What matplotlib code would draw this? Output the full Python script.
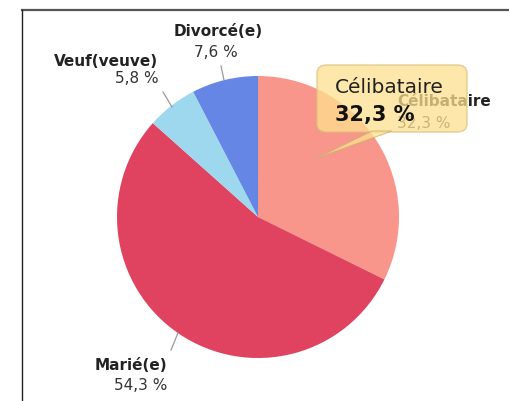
import matplotlib
matplotlib.use("Agg")
import matplotlib.pyplot as plt
from matplotlib.patches import FancyBboxPatch, Polygon
from matplotlib.lines import Line2D

categories = ["Célibataire", "Marié(e)", "Veuf(veuve)", "Divorcé(e)"]
values = [32.3, 54.3, 5.8, 7.6]
colors = ["#F9968B", "#E0435F", "#9ED8EE", "#6686E5"]
value_labels = ["32,3 %", "54,3 %", "5,8 %", "7,6 %"]

W, H = 509, 401
fig = plt.figure(figsize=(W / 100, H / 100), dpi=100)
fig.patch.set_facecolor("white")

cx, cy, R = 258, 217, 141
ax = fig.add_axes([(cx - R) / W, (H - cy - R) / H, 2 * R / W, 2 * R / H])
ax.pie(values, colors=colors, startangle=90, counterclock=False,
       wedgeprops=dict(linewidth=0))
ax.set_xlim(-1, 1)
ax.set_ylim(-1, 1)
ax.axis("off")
ax.set_zorder(0)

def fx(x):
    return x / W

def fy(y):
    return 1 - y / H

# frame
fig.add_artist(Line2D([fx(22), fx(509)], [fy(9.5), fy(9.5)], color="#555555", lw=1.6))
fig.add_artist(Line2D([fx(22), fx(22)], [fy(9.5), fy(401)], color="#222222", lw=1.0))

# leader lines
leaders = [
    ((224, 80), (221, 66)),
    ((172, 107), (163, 92)),
    ((178, 333), (171, 350)),
]
for (x0, y0), (x1, y1) in leaders:
    fig.add_artist(Line2D([fx(x0), fx(x1)], [fy(y0), fy(y1)], color="#999999", lw=0.9))

fs = 11.0
# Divorcé(e)
fig.text(fx(218), fy(36), categories[3], ha="center", va="baseline", fontsize=fs,
         fontweight="bold", color="#222222", zorder=3)
fig.text(fx(216), fy(57), value_labels[3], ha="center", va="baseline", fontsize=fs,
         color="#333333", zorder=3)
# Veuf(veuve)
fig.text(fx(158), fy(66), categories[2], ha="right", va="baseline", fontsize=fs,
         fontweight="bold", color="#222222", zorder=3)
fig.text(fx(159), fy(83), value_labels[2], ha="right", va="baseline", fontsize=fs,
         color="#333333", zorder=3)
# Marié(e)
fig.text(fx(167), fy(370), categories[1], ha="right", va="baseline", fontsize=fs,
         fontweight="bold", color="#222222", zorder=3)
fig.text(fx(167), fy(390), value_labels[1], ha="right", va="baseline", fontsize=fs,
         color="#333333", zorder=3)
# Célibataire (partly under tooltip)
fig.text(fx(397), fy(106), categories[0], ha="left", va="baseline", fontsize=fs,
         fontweight="bold", color="#222222", zorder=3)
fig.text(fx(397), fy(128), value_labels[0], ha="left", va="baseline", fontsize=fs,
         color="#333333", zorder=3)

# tooltip
box = FancyBboxPatch((fx(317), fy(132)), fx(467) - fx(317), fy(65) - fy(132),
                     boxstyle="round,pad=0,rounding_size=0.02",
                     transform=fig.transFigure, facecolor="#FEE08E", alpha=0.75,
                     edgecolor="#D9C27A", lw=1.0, zorder=4)
fig.add_artist(box)
ptr = Polygon([[fx(372), fy(131)], [fx(317), fy(158)], [fx(392), fy(131)]],
              closed=True, transform=fig.transFigure, facecolor="#FEE08E",
              alpha=0.75, edgecolor="#C9B070", lw=0.8, zorder=4)
fig.add_artist(ptr)
fig.text(fx(335), fy(93), categories[0], ha="left", va="baseline", fontsize=14.5,
         color="#222222", zorder=5)
fig.text(fx(335), fy(121), value_labels[0], ha="left", va="baseline", fontsize=15,
         fontweight="bold", color="#111111", zorder=5)

fig.savefig("out.png", dpi=100, facecolor="white")
